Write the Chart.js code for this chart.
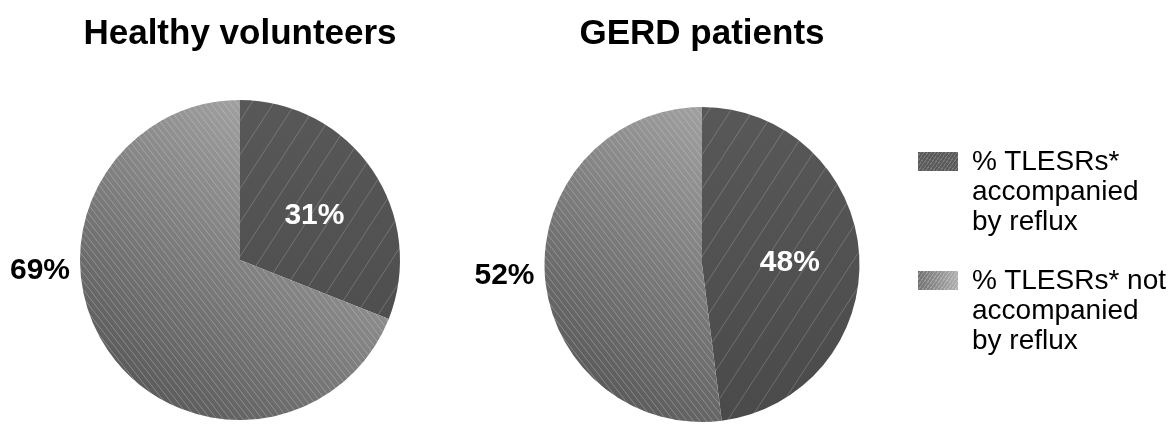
<!DOCTYPE html>
<html>
<head>
<meta charset="utf-8">
<script src="https://cdn.jsdelivr.net/npm/chart.js@4.4.1/dist/chart.umd.min.js"></script>
<style>
  html, body { margin: 0; padding: 0; background: #fff; }
  body { width: 1171px; height: 425px; position: relative; overflow: hidden;
         font-family: "Liberation Sans", Arial, sans-serif; }
  .pie { position: absolute; top: 0; width: 480px; height: 425px; }
  #pie-healthy { left: 0; }
  #pie-gerd { left: 462px; }
  .legend-item { position: absolute; left: 918px; }
  .swatch { position: absolute; left: 0; top: 6px; width: 40px; height: 19px; }
  .legend-text { position: absolute; left: 54px; top: 0; font-size: 28px; line-height: 30px;
                 color: #000; white-space: nowrap; }
</style>
</head>
<body>
<div class="pie" id="pie-healthy"><canvas id="healthy-chart"></canvas></div>
<div class="pie" id="pie-gerd"><canvas id="gerd-chart"></canvas></div>
<div id="legend"></div>

<script>
// === Data ===
var sliceLabels = ['% TLESRs* accompanied by reflux', '% TLESRs* not accompanied by reflux'];
var legendLines = [['% TLESRs*', 'accompanied', 'by reflux'], ['% TLESRs* not', 'accompanied', 'by reflux']];
var healthyValues = [31, 69];
var gerdValues = [48, 52];
var chartTitles = ['Healthy volunteers', 'GERD patients'];

// --- hatched fills, built once per chart after layout ---
function hatchCanvas(w, h, fillFn, spacing, angleDeg, dir, lineColor) {
  var c = document.createElement('canvas');
  c.width = w; c.height = h;
  var g = c.getContext('2d');
  fillFn(g);
  g.strokeStyle = lineColor;
  g.lineWidth = 1;
  var run = h / Math.tan(angleDeg * Math.PI / 180);
  g.beginPath();
  for (var x = -run - spacing; x < w + run + spacing; x += spacing) {
    g.moveTo(x + 0.5, 0);
    g.lineTo(x + 0.5 + dir * run, h);
  }
  g.stroke();
  return c;
}

function slicePatterns(chart) {
  if (chart._patterns) return chart._patterns;
  var area = chart.chartArea;
  var w = chart.width, h = chart.height;
  var cx = (area.left + area.right) / 2, cy = (area.top + area.bottom) / 2;
  var r = Math.min(area.right - area.left, area.bottom - area.top) / 2;
  var ctx = chart.ctx;

  var dark = hatchCanvas(w, h, function(g) {
    var gr = g.createLinearGradient(0, cy - r, 0, cy + r);
    gr.addColorStop(0, '#585858');
    gr.addColorStop(1, '#4a4a4a');
    g.fillStyle = gr;
    g.fillRect(0, 0, w, h);
  }, 22, 57, -1, 'rgba(200,200,200,0.28)');

  var light = hatchCanvas(w, h, function(g) {
    var gr = g.createLinearGradient(cx - r * 0.75, cy + r * 0.75, cx + r * 0.45, cy - r * 0.85);
    gr.addColorStop(0, '#5a5a5a');
    gr.addColorStop(1, '#a6a6a6');
    g.fillStyle = gr;
    g.fillRect(0, 0, w, h);
  }, 6.5, 52, 1, 'rgba(230,230,230,0.3)');

  chart._patterns = [ctx.createPattern(dark, 'no-repeat'), ctx.createPattern(light, 'no-repeat')];
  return chart._patterns;
}

// --- percent labels: first slice inside, second slice outside on the left ---
var pctLabels = {
  id: 'pctLabels',
  afterDatasetsDraw: function(chart) {
    var meta = chart.getDatasetMeta(0);
    var values = chart.data.datasets[0].data;
    var ctx = chart.ctx;
    ctx.save();
    ctx.font = 'bold 30px "Liberation Sans", Arial, sans-serif';
    ctx.textAlign = 'center';
    ctx.textBaseline = 'middle';
    meta.data.forEach(function(arc, i) {
      var mid = (arc.startAngle + arc.endAngle) / 2;
      var x, y;
      if (i === 0) {
        x = arc.x + Math.cos(mid) * arc.outerRadius * 0.54 + 3;
        y = arc.y + Math.sin(mid) * arc.outerRadius * 0.54 + 4;
        ctx.fillStyle = '#fff';
      } else {
        x = arc.x - arc.outerRadius - 40;
        y = arc.y + 11;
        ctx.fillStyle = '#000';
      }
      ctx.fillText(values[i] + '%', x, y);
    });
    ctx.restore();
  }
};

function renderPie(canvasId, title, values, titleBottom, padBottom) {
  var ctx = document.getElementById(canvasId).getContext('2d');
  return new Chart(ctx, {
    type: 'pie',
    data: {
      labels: sliceLabels,
      datasets: [{
        data: values,
        backgroundColor: function(c) {
          if (!c.chart.chartArea) return '#555';
          return slicePatterns(c.chart)[c.dataIndex];
        },
        borderWidth: 0
      }]
    },
    options: {
      responsive: true,
      maintainAspectRatio: false,
      animation: false,
      layout: { padding: { bottom: padBottom } },
      plugins: {
        legend: { display: false },
        tooltip: { enabled: false },
        title: {
          display: true,
          text: title,
          color: '#000',
          font: { family: '"Liberation Sans", Arial, sans-serif', size: 35, weight: 'bold' },
          padding: { top: 13, bottom: titleBottom }
        }
      }
    },
    plugins: [pctLabels]
  });
}

// --- HTML legend ---
function renderLegend() {
  var el = document.getElementById('legend');
  var swatchBg = [
    'repeating-linear-gradient(-55deg, #5a5a5a 0 2px, #7a7a7a 2px 3px)',
    'repeating-linear-gradient(-55deg, rgba(255,255,255,0) 0 2px, rgba(255,255,255,0.25) 2px 3px), linear-gradient(90deg, #707070, #b0b0b0)'
  ];
  var tops = [146, 265];
  el.innerHTML = legendLines.map(function(lines, i) {
    return '<div class="legend-item" style="top:' + tops[i] + 'px">' +
      '<div class="swatch" style="background:' + swatchBg[i] + '"></div>' +
      '<div class="legend-text">' + lines.join('<br>') + '</div>' +
    '</div>';
  }).join('');
}

renderPie('healthy-chart', chartTitles[0], healthyValues, 45, 5);
renderPie('gerd-chart', chartTitles[1], gerdValues, 52, 3);
renderLegend();
</script>
</body>
</html>
